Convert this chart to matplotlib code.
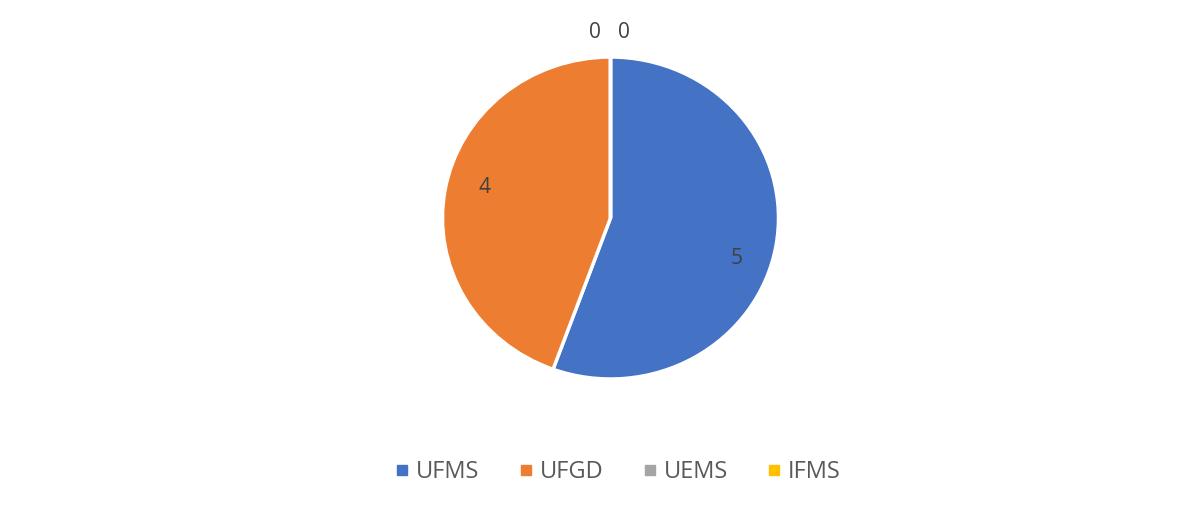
import matplotlib.pyplot as plt
from matplotlib.lines import Line2D
import numpy as np

plt.rcParams['font.family'] = ['Open Sans', 'DejaVu Sans']

labels = ['UFMS', 'UFGD', 'UEMS', 'IFMS']
values = [5, 4, 0, 0]
colors = ['#4472C4', '#ED7D31', '#A5A5A5', '#FFC000']

fig = plt.figure(figsize=(12, 5.07), dpi=100)
ax = fig.add_axes([(610.5 - 201.6) / 1200, (289 - 193.2) / 507, 403.2 / 1200, 386.4 / 507])

wedges, _ = ax.pie(values, colors=colors, startangle=90, counterclock=False,
                   wedgeprops=dict(edgecolor='white', linewidth=2.5))
ax.set_aspect('auto')
ax.set_xlim(-1.2, 1.2)
ax.set_ylim(-1.2, 1.2)

# data labels
total = sum(values)
angle = 90
zero_offsets = [-0.09, 0.08]
zi = 0
for v in values:
    span = 360 * v / total
    mid = np.deg2rad(angle - span / 2)
    if v > 0:
        x, y = 0.76 * np.cos(mid), 0.76 * np.sin(mid)
        if v == 5:
            y -= 0.12
        else:
            y += 0.06
    else:
        x, y = zero_offsets[zi], 1.15
        zi += 1
    ax.text(x, y, str(v), ha='center', va='center', fontsize=15, color='#404040')
    angle -= span

handles = [Line2D([], [], marker='s', linestyle='none', markersize=7,
                  markerfacecolor=c, markeredgecolor=c) for c in colors]
fig.legend(handles, labels, loc='center', bbox_to_anchor=(0.514, 1 - 472 / 507),
           ncol=4, frameon=False, fontsize=17, labelcolor='#595959',
           handletextpad=0.2, columnspacing=1.55, handlelength=0.8)

fig.savefig('out.png', dpi=100)
